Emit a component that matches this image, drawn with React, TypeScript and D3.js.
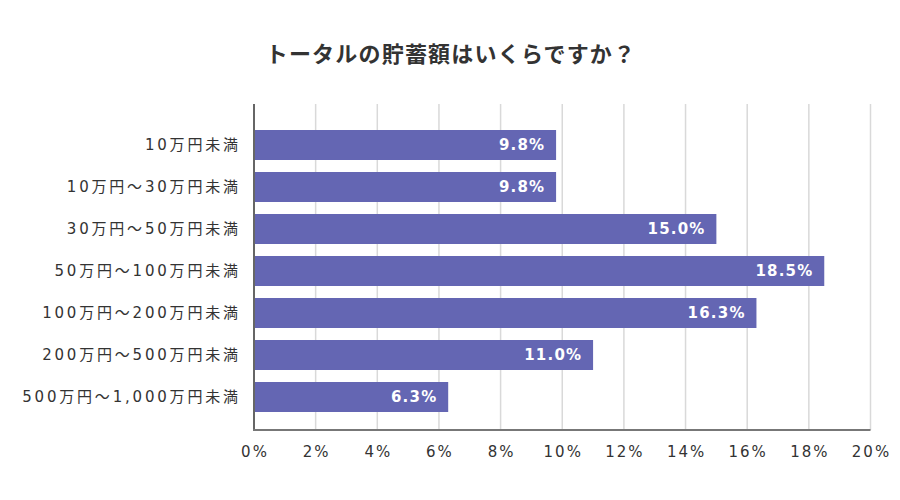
import React from "react";
import * as d3 from "d3";

const TITLE = "トータルの貯蓄額はいくらですか？";
const categories = [
  "10万円未満",
  "10万円～30万円未満",
  "30万円～50万円未満",
  "50万円～100万円未満",
  "100万円～200万円未満",
  "200万円～500万円未満",
  "500万円～1,000万円未満",
];
const values = [9.8, 9.8, 15.0, 18.5, 16.3, 11.0, 6.3];
const ticks = [0, 2, 4, 6, 8, 10, 12, 14, 16, 18, 20];

const W = 900;
const H = 500;
const FONT = "'DejaVu Sans', 'Noto Sans CJK JP', sans-serif";

export default function App() {
  const x = d3.scaleLinear().domain([0, 20]).range([254, 870.5]);
  const y = d3
    .scaleBand<string>()
    .domain(categories)
    .range([124, 418])
    .paddingInner(12 / 42)
    .paddingOuter(6 / 42);
  const top = 104;
  const bottom = 430;

  return (
    <svg
      width={W}
      height={H}
      style={{ position: "absolute", left: 0, top: 0, background: "#fff" }}
      fontFamily={FONT}
    >
      <rect x={0} y={0} width={W} height={H} fill="#fff" />
      <text
        x={451}
        y={62}
        textAnchor="middle"
        fontSize={22}
        fontWeight="bold"
        fill="#333"
        letterSpacing={1.2}
        fontFamily="'Noto Sans CJK JP', sans-serif"
      >
        {TITLE}
      </text>
      {ticks.slice(1).map((t) => (
        <line
          key={"g" + t}
          x1={x(t)}
          x2={x(t)}
          y1={top}
          y2={bottom}
          stroke="#d9d9d9"
          strokeWidth={1.5}
        />
      ))}
      {categories.map((c, i) => (
        <rect
          key={"b" + c}
          x={x(0)}
          y={y(c)!}
          width={x(values[i]) - x(0)}
          height={y.bandwidth()}
          fill="#6466b3"
        />
      ))}
      <line x1={x(0)} x2={x(0)} y1={top} y2={bottom + 1} stroke="#666" strokeWidth={2} />
      <line x1={x(0) - 1} x2={x(20)} y1={bottom} y2={bottom} stroke="#777" strokeWidth={2} />
      {categories.map((c, i) => (
        <text
          key={"l" + c}
          x={240.8}
          y={y(c)! + y.bandwidth() / 2}
          dy="0.35em"
          textAnchor="end"
          fontSize={15}
          fill="#333"
          letterSpacing={2.8}
        >
          {c}
        </text>
      ))}
      {categories.map((c, i) => (
        <text
          key={"v" + c}
          x={x(values[i]) - 12 + 1.2}
          y={y(c)! + y.bandwidth() / 2}
          dy="0.36em"
          textAnchor="end"
          fontSize={15}
          fontWeight="bold"
          fill="#fff"
          letterSpacing={1.2}
        >
          {values[i].toFixed(1) + "%"}
        </text>
      ))}
      {ticks.map((t) => (
        <text
          key={"t" + t}
          x={x(t) + 1}
          y={452}
          dy="0.35em"
          textAnchor="middle"
          fontSize={15}
          fill="#333"
          letterSpacing={2}
        >
          {t + "%"}
        </text>
      ))}
    </svg>
  );
}
